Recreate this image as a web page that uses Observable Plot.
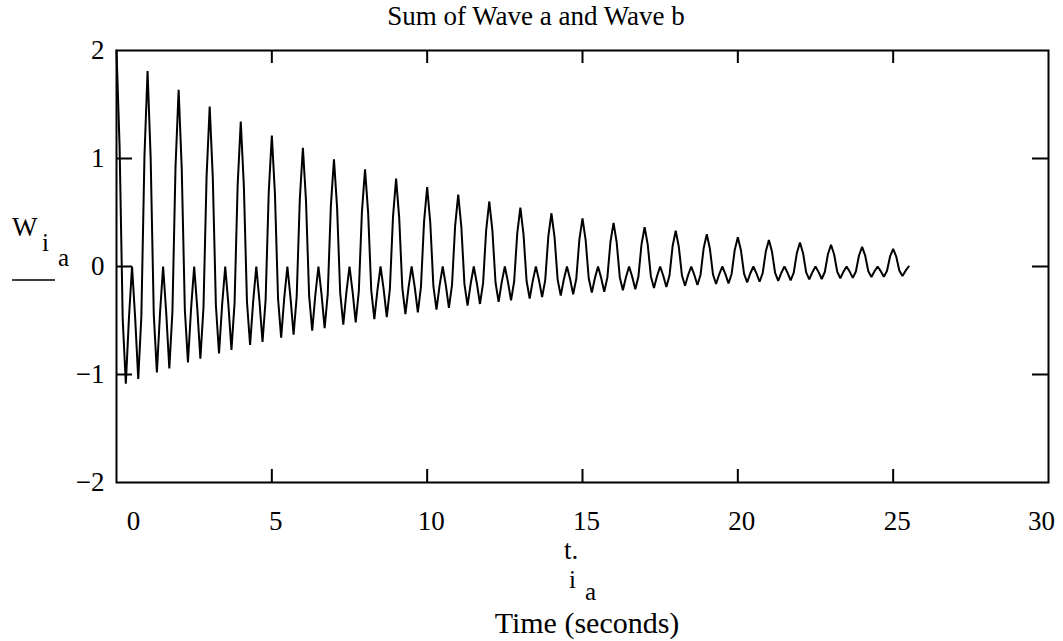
<!DOCTYPE html>
<html>
<head>
<meta charset="utf-8">
<script src="https://cdn.jsdelivr.net/npm/d3@7"></script>
<script src="https://cdn.jsdelivr.net/npm/@observablehq/plot@0.6"></script>
<style>
  html, body { margin: 0; padding: 0; background: #fff; }
  #chart { width: 1063px; height: 641px; }
</style>
</head>
<body>
<div id="chart"></div>
<script>
// Sample step of the time vector (seconds)
const STEP = 0.1;
// W values, one row per second (10 samples each)
const W = [
  2.000, 1.107, -0.490, -1.085, -0.480, 0, -0.471, -1.042, -0.462, 1.022,
  1.810, 1.002, -0.443, -0.982, -0.435, 0, -0.426, -0.943, -0.418, 0.925,
  1.637, 0.906, -0.401, -0.888, -0.393, 0, -0.386, -0.853, -0.378, 0.837,
  1.482, 0.820, -0.363, -0.804, -0.356, 0, -0.349, -0.772, -0.342, 0.757,
  1.341, 0.742, -0.329, -0.727, -0.322, 0, -0.316, -0.699, -0.309, 0.685,
  1.213, 0.671, -0.297, -0.658, -0.291, 0, -0.286, -0.632, -0.280, 0.620,
  1.098, 0.607, -0.269, -0.595, -0.264, 0, -0.258, -0.572, -0.253, 0.561,
  0.993, 0.550, -0.243, -0.539, -0.239, 0, -0.234, -0.518, -0.229, 0.507,
  0.899, 0.497, -0.220, -0.488, -0.216, 0, -0.212, -0.468, -0.207, 0.459,
  0.813, 0.450, -0.199, -0.441, -0.195, 0, -0.191, -0.424, -0.188, 0.415,
  0.736, 0.407, -0.180, -0.399, -0.177, 0, -0.173, -0.383, -0.170, 0.376,
  0.666, 0.368, -0.163, -0.361, -0.160, 0, -0.157, -0.347, -0.154, 0.340,
  0.602, 0.333, -0.148, -0.327, -0.145, 0, -0.142, -0.314, -0.139, 0.308,
  0.545, 0.302, -0.134, -0.296, -0.131, 0, -0.128, -0.284, -0.126, 0.278,
  0.493, 0.273, -0.121, -0.268, -0.118, 0, -0.116, -0.257, -0.114, 0.252,
  0.446, 0.247, -0.109, -0.242, -0.107, 0, -0.105, -0.233, -0.103, 0.228,
  0.404, 0.223, -0.099, -0.219, -0.097, 0, -0.095, -0.210, -0.093, 0.206,
  0.365, 0.202, -0.090, -0.198, -0.088, 0, -0.086, -0.190, -0.084, 0.187,
  0.331, 0.183, -0.081, -0.179, -0.079, 0, -0.078, -0.172, -0.076, 0.169,
  0.299, 0.166, -0.073, -0.162, -0.072, 0, -0.070, -0.156, -0.069, 0.153,
  0.271, 0.150, -0.066, -0.147, -0.065, 0, -0.064, -0.141, -0.062, 0.138,
  0.245, 0.136, -0.060, -0.133, -0.059, 0, -0.058, -0.128, -0.057, 0.125,
  0.222, 0.123, -0.054, -0.120, -0.053, 0, -0.052, -0.116, -0.051, 0.113,
  0.201, 0.111, -0.049, -0.109, -0.048, 0, -0.047, -0.105, -0.046, 0.102,
  0.181, 0.100, -0.044, -0.098, -0.044, 0, -0.043, -0.095, -0.042, 0.093,
  0.164, 0.091, -0.040, -0.089, -0.039, 0
];

const xTickLabels = [0, 5, 10, 15, 20, 25, 30];
const xInnerTicks = [5, 10, 15, 20, 25];
const yTickLabels = [-2, -1, 0, 1, 2];
const yInnerTicks = [-1, 0, 1];

const titleText = "Sum of Wave a and Wave b";
const xCaption = "Time (seconds)";

const data = W.map((w, i) => ({t: +(i * STEP).toFixed(1), w}));

const W_ = 1063, H_ = 641;
const mL = 116, mR = 15, mT = 50, mB = 159;
const frameW = W_ - mL - mR, frameH = H_ - mT - mB;
const FONT = "'Liberation Serif', 'Times New Roman', serif";

const fmt = d => d < 0 ? "\u2212" + Math.abs(d) : String(d);
const xFirst = xTickLabels.slice(0, 1);
const xMid = xTickLabels.slice(1, -1);
const xLast = xTickLabels.slice(-1);

const xAxisOpts = {tickSize: 0, tickPadding: 28, fontSize: 27, label: null, tickFormat: fmt};

const plot = Plot.plot({
  width: W_,
  height: H_,
  marginLeft: mL,
  marginRight: mR,
  marginTop: mT,
  marginBottom: mB,
  style: {fontFamily: FONT, fontSize: "27px", color: "black", background: "white"},
  x: {domain: [0, 30]},
  y: {domain: [-2, 2]},
  marks: [
    Plot.axisX(xFirst, {...xAxisOpts, dx: 17}),
    Plot.axisX(xMid, {...xAxisOpts, dx: 4}),
    Plot.axisX(xLast, {...xAxisOpts, dx: -7}),
    Plot.axisY(yTickLabels, {tickSize: 0, tickPadding: 12, fontSize: 27, label: null, tickFormat: fmt}),
    Plot.tickX(xInnerTicks, {x: d => d, insetTop: frameH - 13, stroke: "black", strokeWidth: 2}),
    Plot.tickX(xInnerTicks, {x: d => d, insetBottom: frameH - 13, stroke: "black", strokeWidth: 2}),
    Plot.tickY(yInnerTicks, {y: d => d, insetRight: frameW - 16, stroke: "black", strokeWidth: 2}),
    Plot.tickY(yInnerTicks, {y: d => d, insetLeft: frameW - 16, stroke: "black", strokeWidth: 2}),
    Plot.line(data, {x: "t", y: "w", stroke: "black", strokeWidth: 2, strokeLinejoin: "miter"}),
    Plot.frame({stroke: "black", strokeWidth: 2})
  ]
});

document.getElementById("chart").appendChild(plot);

const svg = d3.select(plot);
const addText = (txt, x, y, size, anchor) =>
  svg.append("text")
    .attr("x", x).attr("y", y)
    .attr("text-anchor", anchor || "start")
    .attr("font-family", FONT)
    .attr("font-size", size)
    .attr("fill", "black")
    .text(txt);

// Subscripted label as a single text element with tspans
const addSubLabel = (parts, x, y) => {
  const t = svg.append("text")
    .attr("x", x).attr("y", y)
    .attr("text-anchor", "start")
    .attr("font-family", FONT)
    .attr("fill", "black");
  parts.forEach(p => {
    t.append("tspan")
      .attr("x", x + p.dx).attr("y", y + p.dy)
      .attr("font-size", p.size)
      .text(p.s);
  });
  return t;
};

// Title
addText(titleText, 536, 25, 27, "middle");
// Y axis label W_i_a with underline
addSubLabel([
  {s: "W", dx: 0, dy: 0, size: 27},
  {s: "i", dx: 30, dy: 15, size: 25},
  {s: "a", dx: 46, dy: 30, size: 25}
], 12, 236);
svg.append("line").attr("x1", 12).attr("x2", 55).attr("y1", 280).attr("y2", 280)
  .attr("stroke", "black").attr("stroke-width", 1.5);
// X axis label t_i_a
addSubLabel([
  {s: "t.", dx: 0, dy: 0, size: 27},
  {s: "i", dx: 5, dy: 29, size: 25},
  {s: "a", dx: 21, dy: 41, size: 25}
], 564, 559);
addText(xCaption, 587, 633, 30, "middle");
</script>
</body>
</html>
